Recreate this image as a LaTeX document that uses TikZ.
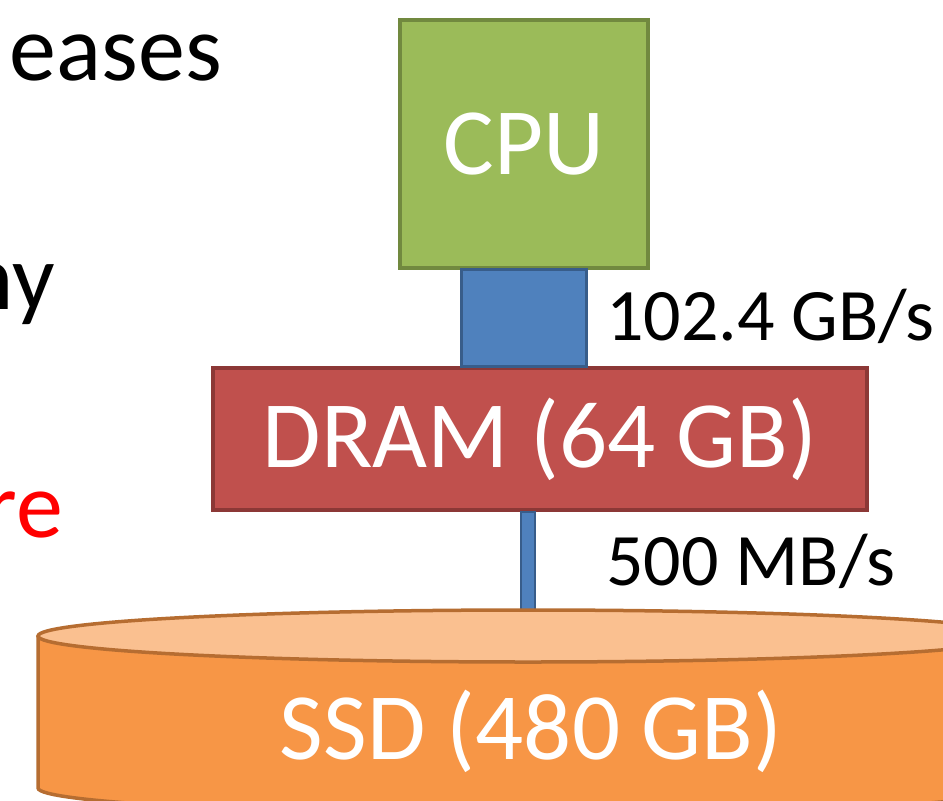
\documentclass[tikz,border=0pt]{standalone}
\usepackage{fontspec}
\setmainfont{Carlito}
\definecolor{cpufill}{HTML}{9BBB59}
\definecolor{cpuline}{HTML}{71893F}
\definecolor{busfill}{HTML}{4F81BD}
\definecolor{busline}{HTML}{385D8A}
\definecolor{dramfill}{HTML}{C0504D}
\definecolor{dramline}{HTML}{8C3836}
\definecolor{ssdfill}{HTML}{F79646}
\definecolor{ssdtopfill}{HTML}{FAC090}
\definecolor{ssdline}{HTML}{B66D31}
\definecolor{slidered}{HTML}{FF0000}
\tikzset{
  membox/.style={inner sep=0pt, line width=3.5pt, text=white,
    font=\fontsize{95}{95}\selectfont},
  bus/.style={fill=busfill, draw=busline, line width=3pt},
  bwlabel/.style={inner sep=0pt, anchor=base west,
    font=\fontsize{74}{74}\selectfont},
  slidetext/.style={inner sep=0pt, anchor=base east,
    font=\fontsize{94}{94}\selectfont}
}
\begin{document}
\begin{tikzpicture}[x=1pt, y=-1pt]
\clip (0,0) rectangle (943,801);

%Texto de la diapositiva
\node[slidetext] (line1) at (222,80) {eases};
\node[slidetext] (line2) at (55,309) {ny};
\node[slidetext, text=slidered] (line3) at (63,537) {re};

%Cajas
\node[membox, fill=cpufill, draw=cpuline, minimum width=248pt, minimum height=248pt] (cpu) at (524,144) {CPU};
\node[membox, fill=dramfill, draw=dramline, minimum width=654pt, minimum height=142pt] (dram) at (540,439) {DRAM (64 GB)};
\coordinate (ssdtop) at (528,611);

%Buses
\draw[bus] ([xshift=-63pt]cpu.south) rectangle ([xshift=46pt]dram.north);
\draw[bus, line width=2pt] ([xshift=-19pt]dram.south) rectangle ([xshift=7pt]ssdtop);
\node[bwlabel] (bwcpu) at (606,340) {102.4 GB/s};
\node[bwlabel] (bwssd) at (606,585) {500 MB/s};

%Disco
\draw[fill=ssdfill, draw=ssdline, line width=3.5pt] (38,636) -- (38,788)
  arc[start angle=180, end angle=0, x radius=490, y radius=26] -- (1018,636);
\draw[fill=ssdtopfill, draw=ssdline, line width=3.5pt] (528,636) ellipse [x radius=490, y radius=26];
\node[membox] (ssd) at (531,731) {SSD (480 GB)};
\end{tikzpicture}
\end{document}
